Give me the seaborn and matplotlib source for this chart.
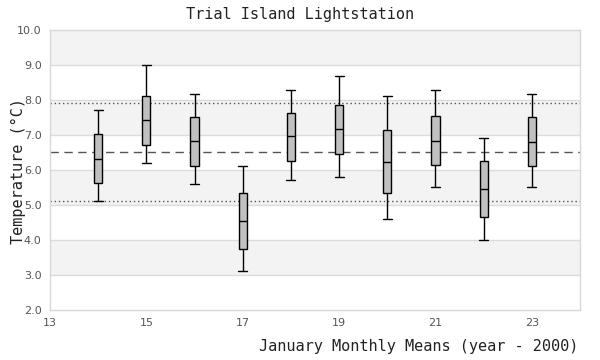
import matplotlib
matplotlib.use('Agg')
import matplotlib.pyplot as plt
import seaborn as sns
import pandas as pd
import numpy as np

# Valores: mínimo, Q1, mediana, Q3, máximo por ano
anos = [14, 15, 16, 17, 18, 19, 20, 21, 22, 23]
minimo = [5.11, 6.19, 5.59, 3.11, 5.71, 5.79, 4.59, 5.51, 3.99, 5.51]
q1 = [5.62, 6.71, 6.11, 3.73, 6.25, 6.45, 5.33, 6.13, 4.65, 6.11]
mediana = [6.32, 7.42, 6.82, 4.53, 6.96, 7.16, 6.22, 6.82, 5.45, 6.79]
q3 = [7.02, 8.11, 7.51, 5.33, 7.64, 7.85, 7.13, 7.53, 6.25, 7.51]
maximo = [7.71, 8.99, 8.18, 6.11, 8.30, 8.70, 8.11, 8.30, 6.91, 8.18]

media_geral = 6.51
limite_sup = 7.91
limite_inf = 5.11

# cinco pontos por ano -> quartis exatos com interpolação linear
linhas = []
for i, a in enumerate(anos):
    for v in [minimo[i], q1[i], mediana[i], q3[i], maximo[i]]:
        linhas.append({'ano': a, 'temp': v})
df = pd.DataFrame(linhas)

sns.set_style('white')
plt.rcParams['font.family'] = ['DejaVu Sans']

fig = plt.figure(figsize=(6, 3.6), dpi=100)
ax = fig.add_axes([50/600, 1-310/360, 530/600, 280/360])

# faixas alternadas de fundo
for y0 in [3, 5, 7, 9]:
    ax.axhspan(y0, y0 + 1, color='#f3f3f3', zorder=0, lw=0)
for y in range(3, 10):
    ax.axhline(y, color='#dcdcdc', lw=1, zorder=0.5)

sns.boxplot(data=df, x='ano', y='temp', native_scale=True, width=0.17,
            whis=(0, 100), color='#c0c0c0', linecolor='black', linewidth=1,
            fliersize=0, saturation=1, ax=ax, zorder=3,
            medianprops={'color': 'black', 'linewidth': 1},
            boxprops={'facecolor': '#c0c0c0', 'edgecolor': 'black'},
            capwidths=0.19)

ax.axhline(media_geral, color='#555555', lw=1, ls=(0, (6, 4)), zorder=2)
ax.axhline(limite_sup, color='#555555', lw=1, ls=(0, (1, 2)), zorder=2)
ax.axhline(limite_inf, color='#555555', lw=1, ls=(0, (1, 2)), zorder=2)

ax.set_xlim(13, 24)
ax.set_ylim(2, 10)
ax.set_xticks([13, 15, 17, 19, 21, 23])
ax.set_yticks(np.arange(2, 10.5, 1))
ax.set_yticklabels(['%.1f' % v for v in np.arange(2, 10.5, 1)])
ax.tick_params(axis='both', length=0, labelsize=8, colors='#555555', pad=6)
for s in ax.spines.values():
    s.set_color('#d8d8d8')
    s.set_linewidth(1)

ax.set_xlabel('')
ax.set_ylabel('')
fig.text(0.5, 1-15/360, 'Trial Island Lightstation', ha='center', va='center',
         family='DejaVu Sans Mono', fontsize=11, color='#222222')
fig.text(18/600, 1-171/360, 'Temperature (°C)', rotation=90, ha='center', va='center',
         family='DejaVu Sans Mono', fontsize=11, color='#222222')
fig.text(578/600, 1-347/360, 'January Monthly Means (year - 2000)', ha='right', va='center',
         family='DejaVu Sans Mono', fontsize=11, color='#222222')

fig.savefig('out.png', dpi=100)
plt.close()
